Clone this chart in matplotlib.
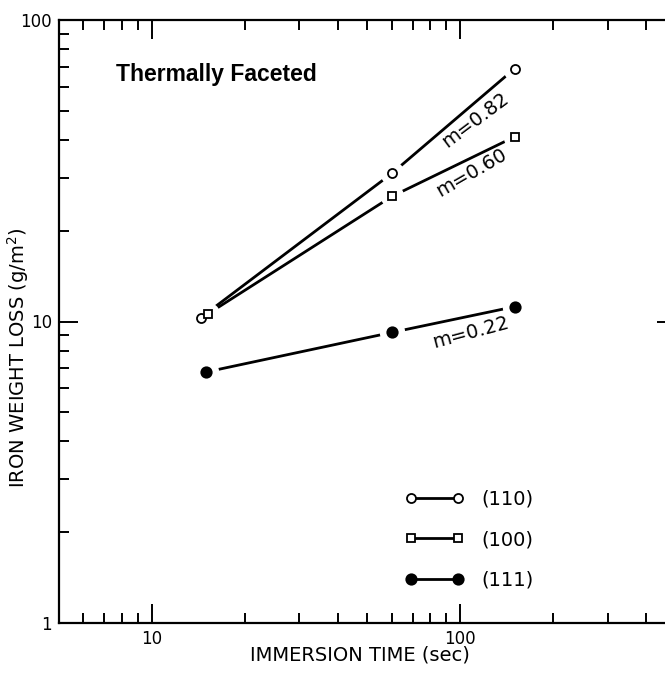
import matplotlib
matplotlib.use("Agg")
import matplotlib.pyplot as plt
from matplotlib.ticker import FuncFormatter, LogLocator, NullFormatter
from matplotlib.lines import Line2D

# ---- data ----
t_110 = [14.4, 60, 150]
w_110 = [10.3, 31, 69]
t_100 = [15.2, 60, 150]
w_100 = [10.6, 26, 41]
t_111 = [15, 60, 150]
w_111 = [6.8, 9.2, 11.2]
slope_labels = ["m=0.82", "m=0.60", "m=0.22"]
slope_pos_x = [112, 109, 108]
slope_pos_y = [46.6, 31.1, 9.2]
slope_rot = [37, 30, 15]
series_labels = ["(110)", "(100)", "(111)"]

plt.rcParams['font.family'] = ['DejaVu Sans']

fig = plt.figure(figsize=(6.65, 6.75), dpi=100)
ax = fig.add_axes([59/665, 52/675, 617/665, 603/675])
ax.set_xscale('log')
ax.set_yscale('log')
ax.set_xlim(5, 500)
ax.set_ylim(1, 100)

lw = 2.0
halo = 15
series = [
    (t_110, w_110, 'o', 'white', 6.5),
    (t_100, w_100, 's', 'white', 6.0),
    (t_111, w_111, 'o', 'black', 7.5),
]
for xs, ys, mk, fc, ms in series:
    ax.plot(xs, ys, '-', color='black', lw=lw, zorder=2, solid_capstyle='butt')
for xs, ys, mk, fc, ms in series:
    ax.plot(xs, ys, linestyle='none', marker='o', ms=ms + halo * 0.72,
            mfc='white', mec='none', zorder=3)
for xs, ys, mk, fc, ms in series:
    ax.plot(xs, ys, linestyle='none', marker=mk, ms=ms, mfc=fc, mec='black',
            mew=1.3, zorder=4)

for lab, x, y, r in zip(slope_labels, slope_pos_x, slope_pos_y, slope_rot):
    ax.text(x, y, lab, rotation=r, ha='center', va='center', fontsize=14,
            rotation_mode='anchor', zorder=5)

ax.text(0.092, 0.909, "Thermally Faceted", transform=ax.transAxes,
        ha='left', va='center', fontsize=16.5, fontweight='bold',
        family=['Liberation Sans'])

handles = []
for xs, ys, mk, fc, ms in series:
    handles.append(Line2D([], [], color='black', lw=lw, marker=mk, ms=ms,
                          mfc=fc, mec='black', mew=1.3))
leg = ax.legend(handles, series_labels, loc='upper left',
                bbox_to_anchor=(0.533, 0.25), frameon=False, numpoints=2,
                handlelength=3.0, handletextpad=0.9, labelspacing=1.1,
                fontsize=14)

ax.xaxis.set_major_locator(LogLocator(base=10))
ax.yaxis.set_major_locator(LogLocator(base=10))
ax.xaxis.set_minor_locator(LogLocator(base=10, subs=range(2, 10)))
ax.yaxis.set_minor_locator(LogLocator(base=10, subs=range(2, 10)))
fmt = FuncFormatter(lambda v, _: f"{v:g}")
ax.xaxis.set_major_formatter(fmt)
ax.yaxis.set_major_formatter(fmt)
ax.xaxis.set_minor_formatter(NullFormatter())
ax.yaxis.set_minor_formatter(NullFormatter())
ax.tick_params(which='both', direction='in', top=True, right=True,
               width=1.4, labelsize=12)
ax.tick_params(which='major', length=14, pad=5)
ax.tick_params(which='minor', length=7)
for s in ax.spines.values():
    s.set_linewidth(1.6)

ax.set_xlabel("IMMERSION TIME (sec)", fontsize=14)
ax.set_ylabel("IRON WEIGHT LOSS (g/m$^2$)", fontsize=14)
ax.xaxis.set_label_coords((360 - 59) / 617, -0.038)
ax.yaxis.set_label_coords((31 - 59) / 617, 0.44)

fig.savefig("out.png", dpi=100)
